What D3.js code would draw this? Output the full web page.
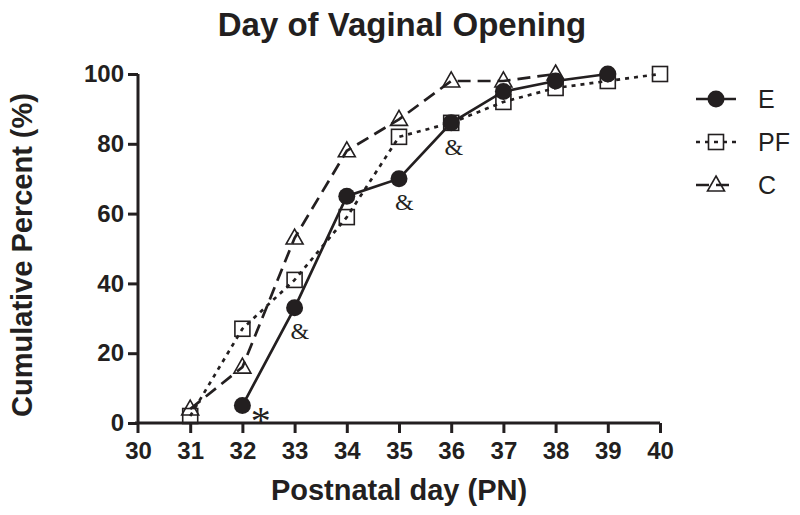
<!DOCTYPE html>
<html lang="en">
<head>
    <meta charset="UTF-8">
    <title>Day of Vaginal Opening</title>
    <style>
        body { margin: 0; background: #fff; }
        svg text { font-family: 'Liberation Sans', Arial, sans-serif; fill: #231f20; }
    </style>
    <script src="https://d3js.org/d3.v7.min.js"></script>
</head>
<body>
    <svg width="800" height="515"></svg>
    <script>
        // values
        const daysE  = [32, 33, 34, 35, 36, 37, 38, 39];
        const valsE  = [5, 33, 65, 70, 86, 95, 98, 100];
        const daysPF = [31, 32, 33, 34, 35, 36, 37, 38, 39, 40];
        const valsPF = [2, 27, 41, 59, 82, 86, 92, 96, 98, 100];
        const daysC  = [31, 32, 33, 34, 35, 36, 37, 38];
        const valsC  = [4, 16, 53, 78, 87, 98, 98, 100];
        const xTicks = [30, 31, 32, 33, 34, 35, 36, 37, 38, 39, 40];
        const yTicks = [0, 20, 40, 60, 80, 100];
        // significance marks (label centre in data units): [day, value, symbol]
        const marks = [[32.35, 3.2, "*"], [33.1, 26.5, "&"], [35.1, 63.3, "&"], [36.05, 79, "&"]];

        const ink = "#231f20";
        const svg = d3.select("svg");

        const x = d3.scaleLinear().domain([30, 40]).range([138, 660]);
        const y = d3.scaleLinear().domain([0, 100]).range([423, 74]);

        // axes
        const xAxis = svg.append("g")
            .attr("transform", "translate(0,423)")
            .call(d3.axisBottom(x).tickValues(xTicks).tickFormat(d3.format("d")).tickSize(10).tickPadding(9));
        const yAxis = svg.append("g")
            .attr("transform", "translate(138,0)")
            .call(d3.axisLeft(y).tickValues(yTicks).tickSize(10).tickPadding(4));

        [xAxis, yAxis].forEach(g => {
            g.select(".domain").attr("stroke", ink).attr("stroke-width", 3);
            g.selectAll(".tick line").attr("stroke", ink).attr("stroke-width", 3);
            g.selectAll(".tick text")
                .style("font-family", "'Liberation Sans', Arial, sans-serif")
                .style("font-size", "24px")
                .style("font-weight", "700")
                .attr("fill", ink);
        });
        // y axis runs slightly below 0 like the original
        yAxis.select(".domain").attr("d", `M0,${y(100)}V${y(0) + 10}`);
        xAxis.select(".domain").attr("d", `M${x(30) - 3},0H${x(40)}`);
        xAxis.selectAll(".tick").filter(d => d === 30).select("line").remove();

        const line = d3.line().x(d => x(d[0])).y(d => y(d[1]));
        const zip = (a, b) => a.map((d, i) => [d, b[i]]);

        const series = [
            { name: "C",  pts: zip(daysC, valsC),  dash: "13,7", shape: "tri" },
            { name: "PF", pts: zip(daysPF, valsPF), dash: "4,5", shape: "sq" },
            { name: "E",  pts: zip(daysE, valsE),  dash: null,   shape: "circ" }
        ];

        function drawMarker(g, shape, cx, cy) {
            if (shape === "circ") {
                g.append("circle").attr("cx", cx).attr("cy", cy).attr("r", 8.5).attr("fill", ink);
            } else if (shape === "sq") {
                g.append("rect").attr("x", cx - 7.5).attr("y", cy - 7.5).attr("width", 15).attr("height", 15)
                    .attr("fill", "none").attr("stroke", ink).attr("stroke-width", 1.6);
            } else {
                g.append("path")
                    .attr("d", `M${cx},${cy - 9}L${cx + 8.5},${cy + 6}L${cx - 8.5},${cy + 6}Z`)
                    .attr("fill", "none").attr("stroke", ink).attr("stroke-width", 1.6);
            }
        }

        series.forEach(s => {
            const g = svg.append("g");
            g.append("path").datum(s.pts)
                .attr("d", line)
                .attr("fill", "none")
                .attr("stroke", ink)
                .attr("stroke-width", 2.7)
                .attr("stroke-dasharray", s.dash);
            s.pts.forEach(p => drawMarker(g, s.shape, x(p[0]), y(p[1])));
        });

        // significance symbols
        svg.selectAll(".sig").data(marks).enter().append("text")
            .attr("class", "sig")
            .attr("x", d => x(d[0]))
            .attr("y", d => y(d[1]))
            .attr("text-anchor", "middle")
            .style("font-family", "'Liberation Serif', 'Times New Roman', serif")
            .style("font-size", d => d[2] === "*" ? "40px" : "24px")
            .attr("dy", d => d[2] === "*" ? "0.55em" : "0.34em")
            .text(d => d[2]);

        // legend
        const legend = svg.append("g");
        [["E", "circ", null], ["PF", "sq", "4,5"], ["C", "tri", "13,7"]].forEach((l, i) => {
            const ly = 99 + i * 43;
            legend.append("line").attr("x1", 696).attr("x2", 736).attr("y1", ly).attr("y2", ly)
                .attr("stroke", ink).attr("stroke-width", 2.7).attr("stroke-dasharray", l[2]);
            drawMarker(legend, l[1], 716, ly);
            legend.append("text").attr("x", 758).attr("y", ly).attr("dy", "0.36em")
                .style("font-size", "25px").text(l[0]);
        });

        // titles
        svg.append("text").attr("x", 402).attr("y", 36).attr("text-anchor", "middle")
            .style("font-size", "33px").style("font-weight", "700").text("Day of Vaginal Opening");
        svg.append("text").attr("x", 399).attr("y", 500).attr("text-anchor", "middle")
            .style("font-size", "29px").style("font-weight", "700").text("Postnatal day (PN)");
        svg.append("text").attr("transform", "translate(32,255) rotate(-90)").attr("text-anchor", "middle")
            .style("font-size", "29px").style("font-weight", "700").text("Cumulative Percent (%)");
    </script>
</body>
</html>
